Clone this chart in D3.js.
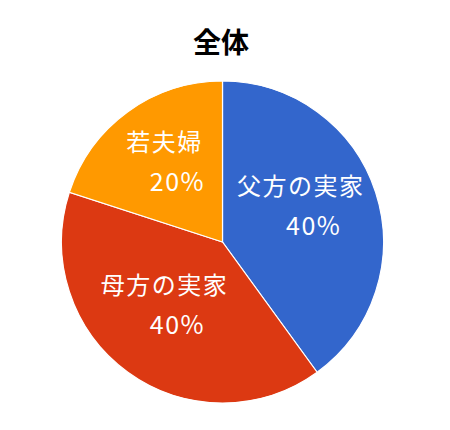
<!DOCTYPE html>
<html>
<head>
<meta charset="utf-8">
<script src="https://cdn.jsdelivr.net/npm/d3@7"></script>
<style>
  body { margin: 0; background: #fff; }
  text { font-family: "Noto Sans CJK JP", "Noto Sans", sans-serif; }
</style>
</head>
<body>
<div id="chart"></div>
<script>
// Chart data
const title = "全体";
const categories = ["父方の実家", "母方の実家", "若夫婦"];
const values = [40, 40, 20];
const colors = ["#3366cc", "#dc3912", "#ff9900"];

const width = 450, height = 430;
const cx = 222.5, cy = 242, radius = 161;

const svg = d3.select("#chart")
  .append("svg")
  .attr("width", width)
  .attr("height", height);

// Title
svg.append("text")
  .attr("x", 221)
  .attr("y", 43)
  .attr("dy", "0.35em")
  .attr("text-anchor", "middle")
  .attr("font-size", 28)
  .attr("font-weight", "bold")
  .attr("fill", "#000")
  .text(title);

const g = svg.append("g")
  .attr("transform", `translate(${cx}, ${cy})`);

const pie = d3.pie().sort(null).value(d => d);
const arcs = pie(values);

const arc = d3.arc().innerRadius(0).outerRadius(radius);
const labelArc = d3.arc().innerRadius(radius * 0.55).outerRadius(radius * 0.55);

// Slices
g.selectAll(".slice")
  .data(arcs)
  .enter()
  .append("path")
  .attr("class", "slice")
  .attr("d", arc)
  .attr("fill", (d, i) => colors[i])
  .attr("stroke", "#fff")
  .attr("stroke-width", 1.2);

// Labels: category name + percent
const labels = g.selectAll(".label")
  .data(arcs)
  .enter()
  .append("g")
  .attr("class", "label")
  .attr("transform", d => `translate(${labelArc.centroid(d)})`);

labels.append("text")
  .attr("x", -6)
  .attr("y", -28)
  .attr("dy", "0.35em")
  .attr("text-anchor", "middle")
  .attr("font-size", 24)
  .attr("letter-spacing", 1.5)
  .attr("fill", "#fff")
  .text((d, i) => categories[i]);

labels.append("text")
  .attr("x", 7)
  .attr("y", 12)
  .attr("dy", "0.35em")
  .attr("text-anchor", "middle")
  .attr("font-size", 25)
  .attr("letter-spacing", 1.5)
  .attr("fill", "#fff")
  .text(d => d.data + "%");
</script>
</body>
</html>
